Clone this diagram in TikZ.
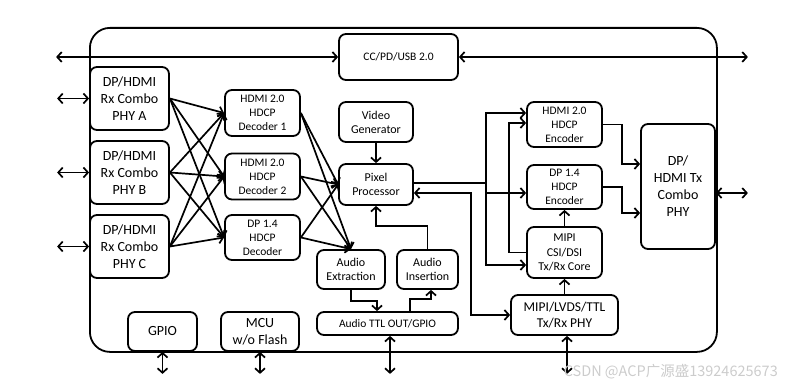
\documentclass[tikz,border=0pt]{standalone}
\usepackage{fontspec}
\setmainfont{Carlito}
\newfontfamily\cjkfont{Noto Sans CJK SC}
\usetikzlibrary{arrows.meta, positioning, calc}

\begin{document}
\begin{tikzpicture}[
    x=1pt, y=-1pt,
    blk/.style={rectangle, rounded corners=7pt, draw, line width=1.8pt, align=center, inner sep=1pt, font=\fontsize{11.5}{14}\selectfont},
    bigblk/.style={blk, font=\fontsize{14}{17}\selectfont},
    arrow/.style={-{Straight Barb[length=4.5pt,width=10pt]}, line width=1.7pt},
    dblarrow/.style={{Straight Barb[length=4.5pt,width=10pt]}-{Straight Barb[length=4.5pt,width=10pt]}, line width=1.7pt}
]
\useasboundingbox (0,0) rectangle (810,387);

% chip outline
\node[draw, rounded corners=20pt, line width=1.8pt, minimum width=627pt, minimum height=324pt, anchor=north west] (chip) at (89,27) {};

\node[blk, minimum width=119pt, minimum height=46pt] (cc) at (398.5,57) {CC/PD/USB 2.0};

% receive side
\node[bigblk, minimum width=79pt, minimum height=63pt] (phyA) at (129.5,98.5) {DP/HDMI\\Rx Combo\\PHY A};
\node[bigblk, minimum width=79pt, minimum height=63pt] (phyB) at (129.5,172.5) {DP/HDMI\\Rx Combo\\PHY B};
\node[bigblk, minimum width=79pt, minimum height=63pt] (phyC) at (129.5,246.5) {DP/HDMI\\Rx Combo\\PHY C};

\node[blk, minimum width=75pt, minimum height=46pt] (decA) at (262.5,113) {HDMI 2.0\\HDCP\\Decoder 1};
\node[blk, minimum width=75pt, minimum height=46pt] (decB) at (262.5,176.5) {HDMI 2.0\\HDCP\\Decoder 2};
\node[blk, minimum width=75pt, minimum height=45pt] (decC) at (262.5,237.5) {DP 1.4\\HDCP\\Decoder};

% video / audio core
\node[blk, minimum width=74pt, minimum height=40pt, font=\fontsize{12}{14}\selectfont] (vgen) at (376,122) {Video\\Generator};
\node[blk, minimum width=74pt, minimum height=41pt, font=\fontsize{12}{14}\selectfont] (pix) at (376,184.5) {Pixel\\Processor};
\node[blk, minimum width=68pt, minimum height=39pt, font=\fontsize{12}{14}\selectfont] (aext) at (351,269.5) {Audio\\Extraction};
\node[blk, minimum width=61pt, minimum height=39pt, font=\fontsize{12}{14}\selectfont] (ains) at (427.5,269.5) {Audio\\Insertion};
\node[blk, minimum width=141pt, minimum height=23pt] (attl) at (387.5,323.5) {Audio TTL OUT/GPIO};

\node[bigblk, minimum width=69pt, minimum height=39pt] (gpio) at (162.5,331.5) {GPIO};
\node[bigblk, minimum width=78pt, minimum height=39pt] (mcu) at (260,331.5) {MCU\\w/o Flash};

% transmit side
\node[blk, minimum width=75pt, minimum height=45pt] (henc) at (564.5,124.5) {HDMI 2.0\\HDCP\\Encoder};
\node[blk, minimum width=75pt, minimum height=44pt] (denc) at (564.5,187) {DP 1.4\\HDCP\\Encoder};
\node[blk, minimum width=75pt, minimum height=51pt, font=\fontsize{12}{14.5}\selectfont] (mcore) at (564.5,252.5) {MIPI\\CSI/DSI\\Tx/Rx Core};
\node[bigblk, minimum width=107pt, minimum height=40pt, font=\fontsize{13.5}{16.5}\selectfont] (mphy) at (564.5,315) {MIPI/LVDS/TTL\\Tx/Rx PHY};
\node[bigblk, minimum width=74pt, minimum height=125pt] (txphy) at (678,186.5) {DP/\\HDMI Tx\\Combo\\PHY};

% external ports
\draw[dblarrow] (cc.west) -- ++(-282,0);
\draw[dblarrow] (cc.east) -- ++(289,0);
\foreach \p in {A,B,C}
  \draw[dblarrow] (phy\p.west) -- ++(-32,0);
\draw[dblarrow] ([yshift=-6.5pt]txphy.east) -- ++(32,0);
\draw[dblarrow] (gpio.south) -- ++(0,22);
\draw[dblarrow] (mcu.south) -- ++(0,22);
\draw[dblarrow] ([xshift=2.5pt]attl.south) -- ++(0,38);
\draw[dblarrow] ([xshift=2.5pt]mphy.south) -- ++(0,38);

% rx crossbar
\foreach \p in {A,B,C}
  \foreach \d in {A,B,C}
    \draw[arrow] (phy\p.east) -- (dec\d.west);
\foreach \d in {A,B,C} {
  \draw[arrow] (dec\d.east) -- (pix.west);
  \draw[arrow] (dec\d.east) -- (aext.north);
}

\draw[arrow] (vgen) -- (pix);
\draw[arrow] (aext.south) -- ++(0,11) -| ([xshift=-10.5pt]attl.north);
\draw[arrow] ([xshift=22.5pt]attl.north) -- ++(0,-12) -| ([xshift=3.5pt]ains.south);
\draw[arrow] (ains.north) -- ++(0,-23) -| (pix.south);
\draw[dblarrow] ([yshift=-8.5pt]pix.east) -- ++(57,0) |- (mphy.west);

% tx bus
\draw[arrow] ([yshift=1.5pt]pix.east) -- ++(72,0) coordinate (bus) |- ([yshift=11.5pt]henc.west);
\draw[arrow] (bus) |- ([yshift=-6pt]denc.west);
\draw[arrow] (bus) |- ([yshift=-12.5pt]mcore.west);
\draw[arrow] (mcore.west) -- ++(-17,0) |- ([yshift=1.5pt]henc.west);
\draw[arrow] (mcore) -- (denc);
\draw[arrow] (mphy) -- (mcore);
\draw[arrow] (henc.east) -- ++(19,0) |- ([yshift=22.5pt]txphy.west);
\draw[arrow] (denc.east) -- ++(19,0) |- ([yshift=-26.5pt]txphy.west);

\node[text=gray!40, font=\cjkfont\fontsize{14.5}{16}\selectfont, anchor=east, inner sep=0pt] (mark) at (778,372) {CSDN @ACP广源盛13924625673};

\end{tikzpicture}
\end{document}
